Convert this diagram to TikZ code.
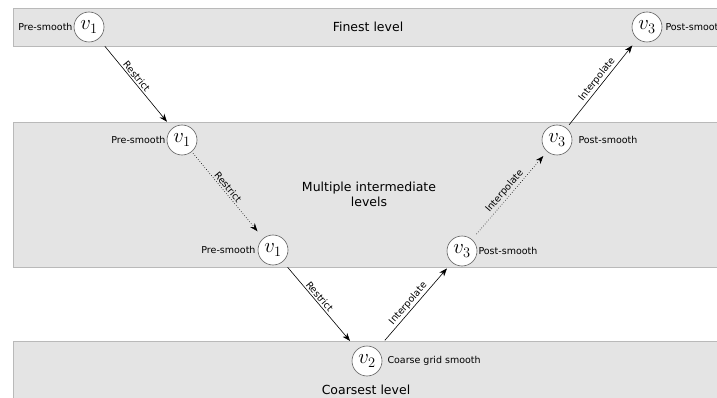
\documentclass[tikz,border=0pt]{standalone}
\usepackage{fontspec}
\setsansfont{DejaVu Sans}
\usetikzlibrary{arrows.meta}
\definecolor{bandfill}{RGB}{228,228,228}
\definecolor{bandline}{RGB}{185,185,185}
\definecolor{ringline}{RGB}{95,95,95}
\tikzset{
  band/.style={fill=bandfill, draw=bandline, line width=0.9pt},
  vnode/.style={circle, draw=ringline, fill=white, line width=0.6pt,
    minimum size=30pt, inner sep=0pt, font=\fontsize{20}{24}\selectfont},
  lbl/.style={inner sep=0pt, font=\sffamily\fontsize{9.5}{11}\selectfont},
  title/.style={inner sep=0pt, align=center,
    font=\sffamily\fontsize{12.5}{15}\selectfont},
  arr/.style={-{Stealth[length=8pt,width=6pt,inset=2.5pt]}, line width=0.6pt},
  darr/.style={arr, dotted},
  elbl/.style={lbl, sloped, above, inner sep=1.5pt},
}
\begin{document}
\begin{tikzpicture}[x=1pt,y=-1pt]
\useasboundingbox (0,0) rectangle (717,398);
\clip (0,0) rectangle (717,398);

% level bands
\draw[band] (13,8) rectangle (730,46);
\draw[band] (13,122) rectangle (730,267);
\draw[band] (13,341) rectangle (730,420);

% band titles
\node[title] (finest) at (368,27) {Finest level};
\node[title] (inter) at (369,194) {Multiple intermediate\\levels};
\node[title] (coarsest) at (366,390) {Coarsest level};

% grid nodes
\node[vnode] (t1) at (89,27) {$v_1$};
\node[vnode] (m1a) at (182,140) {$v_1$};
\node[vnode] (m1b) at (273,250) {$v_1$};
\node[vnode] (c2) at (367,361) {$v_2$};
\node[vnode] (m3b) at (462,251) {$v_3$};
\node[vnode] (m3a) at (557,140) {$v_3$};
\node[vnode] (t3) at (647,27) {$v_3$};

% smoothing labels
\node[lbl, anchor=east] (pt1) at ([xshift=-1pt]t1.west) {Pre-smooth};
\node[lbl, anchor=east] (pm1a) at ([xshift=-1pt]m1a.west) {Pre-smooth};
\node[lbl, anchor=east] (pm1b) at ([xshift=-2pt]m1b.west) {Pre-smooth};
\node[lbl, anchor=west] (pc2) at ([xshift=5pt]c2.east) {Coarse grid smooth};
\node[lbl, anchor=west] (pm3b) at ([xshift=1pt]m3b.east) {Post-smooth};
\node[lbl, anchor=west] (pm3a) at ([xshift=6pt]m3a.east) {Post-smooth};
\node[lbl, anchor=west] (pt3) at ([xshift=3pt]t3.east) {Post-smooth};

% restriction (down) and interpolation (up) transfers
\draw[arr, shorten <=9.6pt, shorten >=8.3pt] (t1) -- node[elbl, pos=0.46] {Restrict} (m1a);
\draw[darr, shorten <=2pt, shorten >=9pt] (m1a) -- node[elbl, pos=0.45] {Restrict} (m1b);
\draw[arr, shorten <=7.3pt, shorten >=11pt] (m1b) -- node[elbl, pos=0.44] {Restrict} (c2);
\draw[arr, shorten <=12pt, shorten >=7.7pt] (c2) -- node[elbl, pos=0.48] {Interpolate} (m3b);
\draw[darr, shorten <=7pt, shorten >=5.8pt] (m3b) -- node[elbl] {Interpolate} (m3a);
\draw[arr, shorten <=4.2pt, shorten >=8.3pt] (m3a) -- node[elbl] {Interpolate} (t3);
\end{tikzpicture}
\end{document}
